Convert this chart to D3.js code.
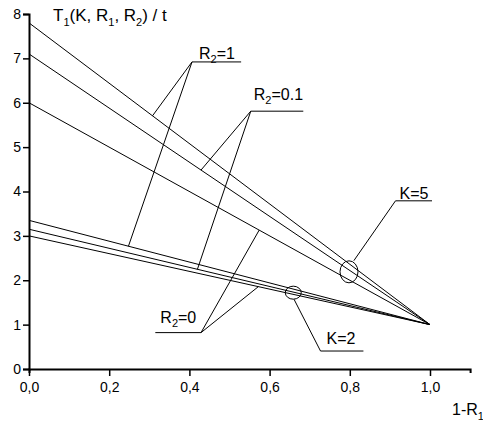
<!DOCTYPE html>
<html>
<head>
<meta charset="utf-8">
<script src="https://cdn.jsdelivr.net/npm/d3@7"></script>
<style>
    body { margin: 0; background: #fff; }
    text { font-family: "Liberation Sans", Arial, sans-serif; fill: #000; }
</style>
</head>
<body>
<div id="chart"></div>
<script>
// DATA
const kValues = [5, 2];
const r2Values = [1, 0.1, 0];
// intercept at 1-R1 = 0, every line ends at (1, 1)
const interceptsK5 = [7.8, 7.1, 6.0];
const interceptsK2 = [3.35, 3.15, 3.0];
const endPoint = [1, 1];

const xTicks = [0, 0.2, 0.4, 0.6, 0.8, 1.0];
const yTicks = [0, 1, 2, 3, 4, 5, 6, 7, 8];

// R2 callouts: vertex, end of underline, x of the K=5 and K=2 line that the leaders touch
const r2Labels = ["1", "0.1", "0"];
const r2Vertex = [[0.4065, 6.92], [0.553, 5.81], [0.429, 0.82]];
const r2LineEnd = [0.529, 0.684, 0.315];
const r2TouchK5 = [0.308, 0.429, 0.574];
const r2TouchK2 = [0.248, 0.42, 0.572];

// K callouts: ellipse centre, leader start, leader vertex, underline end
const kLabels = ["K=5", "K=2"];
const kEllipse = [[0.798, 2.19], [0.659, 1.72]];
const kLeaderStart = [[0.81, 2.44], [0.661, 1.57]];
const kVertex = [[0.914, 3.79], [0.727, 0.405]];
const kLineEnd = [1.005, 0.834];

const width = 483;
const height = 423;
const margin = {top: 14, left: 29, right: 13, bottom: 54};

// label nudges in px (text start / baseline relative to the callout underline)
const r2TextDx = [7, 3, 5];
const r2TextDy = [-3, -11, -10];
const kTextDx = [4, 6];
const kTextDy = [-2, -7];

// Canvas
const viz = d3.select("#chart")
    .append("svg")
    .attr("width", width)
    .attr("height", height);

// Scales
const xScale = d3.scaleLinear()
    .domain([0, 1.1])
    .range([margin.left, margin.left + 401 * 1.1]);

const yScale = d3.scaleLinear()
    .domain([0, 8])
    .range([height - margin.bottom, margin.top]);

// Axes
const xAxis = viz.append("g")
    .attr("transform", `translate(0,${yScale(0)})`)
    .call(d3.axisBottom(xScale).tickValues(d3.range(0, 1.15, 0.1)).tickSize(4).tickFormat(""));
xAxis.call(d3.axisBottom(xScale).tickValues(xTicks).tickSize(7).tickSizeOuter(4)
    .tickFormat(function(d) { return d3.format(".1f")(d).replace(".", ","); }));

const yAxis = viz.append("g")
    .attr("transform", `translate(${xScale(0)},0)`)
    .call(d3.axisLeft(yScale).tickValues(d3.range(0.5, 8, 1)).tickSize(3).tickFormat(""));
yAxis.call(d3.axisLeft(yScale).tickValues(yTicks).tickSize(6).tickFormat(d3.format("d")));

viz.selectAll(".domain").attr("stroke-width", 2);
viz.selectAll(".tick line").attr("stroke-width", 1.5);
viz.selectAll(".tick text").style("font-size", "14px");
xAxis.selectAll(".tick text").attr("y", 10).attr("dy", "0.93em");
yAxis.selectAll(".tick text").attr("x", -8);

// Labels
const yLabel = viz.append("text")
    .attr("x", 53)
    .attr("y", 21)
    .style("font-size", "17px");
yLabel.append("tspan").text("T");
yLabel.append("tspan").attr("dy", 5).style("font-size", "11px").text("1");
yLabel.append("tspan").attr("dy", -5).text("(K, R");
yLabel.append("tspan").attr("dy", 5).style("font-size", "11px").text("1");
yLabel.append("tspan").attr("dy", -5).text(", R");
yLabel.append("tspan").attr("dy", 5).style("font-size", "11px").text("2");
yLabel.append("tspan").attr("dy", -5).text(") / t");

const xLabel = viz.append("text")
    .attr("x", 452)
    .attr("y", 415)
    .style("font-size", "16px");
xLabel.append("tspan").text("1-R");
xLabel.append("tspan").attr("dy", 5).style("font-size", "11px").text("1");

// Marks
const lineData = [];
kValues.forEach(function(k, i) {
    const intercepts = i == 0 ? interceptsK5 : interceptsK2;
    r2Values.forEach(function(r2, j) {
        lineData.push({k: k, r2: r2, points: [[0, intercepts[j]], endPoint]});
    });
});

const line = d3.line()
    .x(function(d) { return xScale(d[0]); })
    .y(function(d) { return yScale(d[1]); });

viz.selectAll(".series")
    .data(lineData)
    .enter()
    .append("path")
    .attr("class", "series")
    .attr("d", function(d) { return line(d.points); })
    .attr("fill", "none")
    .attr("stroke", "#000")
    .attr("stroke-width", 1);

// R2 callouts
function yOn(intercept, x) { return intercept + (endPoint[1] - intercept) * x; }

r2Labels.forEach(function(label, i) {
    const v = r2Vertex[i];
    const g = viz.append("g").attr("fill", "none").attr("stroke", "#000").attr("stroke-width", 1);
    g.append("path").attr("d", line([[r2TouchK5[i], yOn(interceptsK5[i], r2TouchK5[i])], v, [r2TouchK2[i], yOn(interceptsK2[i], r2TouchK2[i])]]));
    g.append("path").attr("d", line([v, [r2LineEnd[i], v[1]]]));

    const left = Math.min(xScale(v[0]), xScale(r2LineEnd[i]));
    const t = viz.append("text")
        .attr("x", left + r2TextDx[i])
        .attr("y", yScale(v[1]) + r2TextDy[i])
        .style("font-size", "16px");
    t.append("tspan").text("R");
    t.append("tspan").attr("dy", 4).style("font-size", "11px").text("2");
    t.append("tspan").attr("dy", -4).text("=" + label);
});

// K callouts
kLabels.forEach(function(label, i) {
    const c = kEllipse[i];
    viz.append("ellipse")
        .attr("cx", xScale(c[0]))
        .attr("cy", yScale(c[1]))
        .attr("rx", i == 0 ? 9 : 8)
        .attr("ry", i == 0 ? 11 : 6.5)
        .attr("fill", "none")
        .attr("stroke", "#000");
    viz.append("path")
        .attr("d", line([kLeaderStart[i], kVertex[i], [kLineEnd[i], kVertex[i][1]]]))
        .attr("fill", "none")
        .attr("stroke", "#000");
    viz.append("text")
        .attr("x", xScale(kVertex[i][0]) + kTextDx[i])
        .attr("y", yScale(kVertex[i][1]) + kTextDy[i])
        .style("font-size", "16px")
        .text(label);
});
</script>
</body>
</html>
